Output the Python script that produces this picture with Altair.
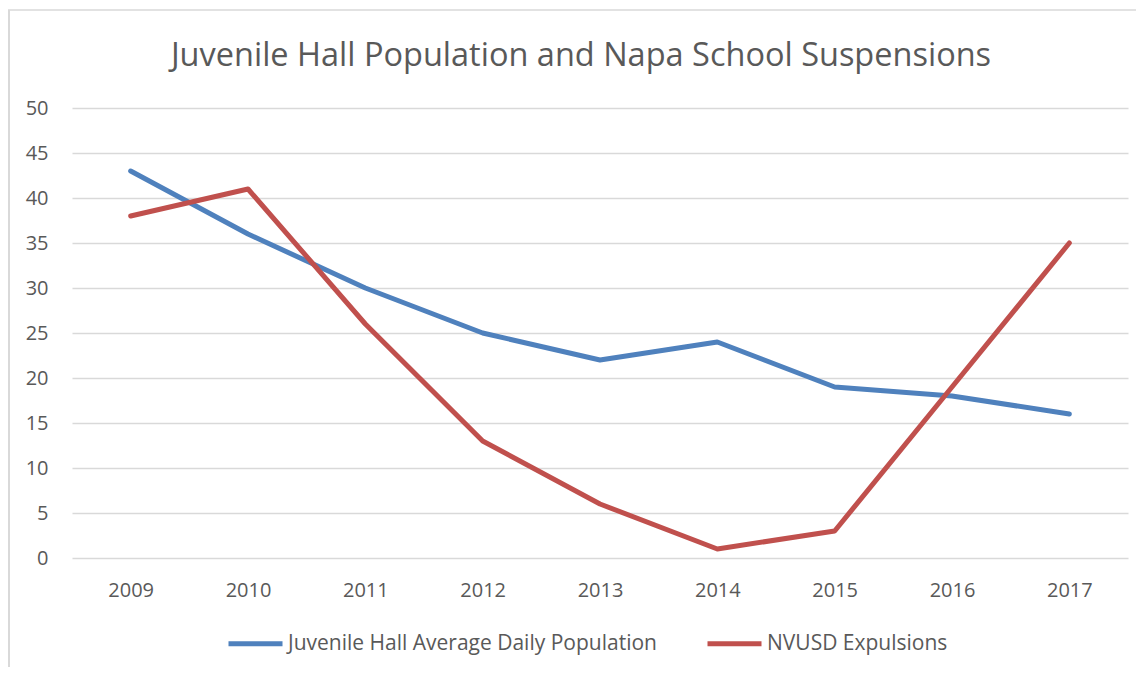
import altair as alt
import pandas as pd

years = ["2009", "2010", "2011", "2012", "2013", "2014", "2015", "2016", "2017"]
juvenile = [43, 36, 30, 25, 22, 24, 19, 18, 16]
expulsions = [38, 41, 26, 13, 6, 1, 3, 19, 35]
series_names = ["Juvenile Hall Average Daily Population", "NVUSD Expulsions"]
series_colors = ["#4F81BD", "#C0504D"]
y_ticks = [0, 5, 10, 15, 20, 25, 30, 35, 40, 45, 50]
title_text = "Juvenile Hall Population and Napa School Suspensions"

rows = []
for name, vals in zip(series_names, [juvenile, expulsions]):
    for yr, v in zip(years, vals):
        rows.append({"Year": yr, "Value": v, "Series": name})
df = pd.DataFrame(rows)

FONT = "Open Sans"
GRID = "#D9D9D9"
TEXT = "#595959"

lines = alt.Chart(df).mark_line(strokeWidth=5, strokeCap="round", strokeJoin="round").encode(
    x=alt.X("Year:O", sort=years, scale=alt.Scale(type="point", padding=0.5),
            axis=alt.Axis(title=None, labelAngle=0, ticks=False, tickSize=0, domain=False, grid=False,
                          labelPadding=22, labelFontSize=20, labelColor=TEXT, labelFont=FONT)),
    y=alt.Y("Value:Q", scale=alt.Scale(domain=[0, 50], nice=False),
            axis=alt.Axis(title=None, values=y_ticks, ticks=False, tickSize=0, domain=False,
                          grid=True, gridColor=GRID, gridWidth=1.5,
                          labelPadding=24, labelFontSize=20, labelColor=TEXT, labelFont=FONT)),
    color=alt.Color("Series:N", sort=series_names,
                    scale=alt.Scale(domain=series_names, range=series_colors),
                    legend=alt.Legend(title=None, orient="none", direction="horizontal",
                                      legendX=154, legendY=506,
                                      symbolType="stroke", symbolSize=2916, symbolStrokeWidth=5,
                                      labelFontSize=21, labelColor=TEXT, labelFont=FONT,
                                      labelLimit=0, labelOffset=3, columnPadding=40)),
)

one = pd.DataFrame({"k": [0]})
border_top = alt.Chart(one).mark_rule(color=GRID, strokeWidth=1.5).encode(
    x=alt.value(-64), x2=alt.value(1080), y=alt.value(-98))
border_left = alt.Chart(one).mark_rule(color=GRID, strokeWidth=2).encode(
    x=alt.value(-63), y=alt.value(-98), y2=alt.value(560))
title = alt.Chart(one).mark_text(text=title_text, font=FONT, fontSize=32.5, color=TEXT,
                                 align="center", baseline="alphabetic").encode(
    x=alt.value(509), y=alt.value(-42))

chart = alt.layer(border_top, border_left, title, lines).properties(
    width=1056, height=450,
    padding={"left": 64, "top": 100, "right": 8, "bottom": 109},
    autosize=alt.AutoSizeParams(type="none"),
).configure_view(stroke=None)

chart.save("out.html", embed_options={"renderer": "svg", "actions": False})
